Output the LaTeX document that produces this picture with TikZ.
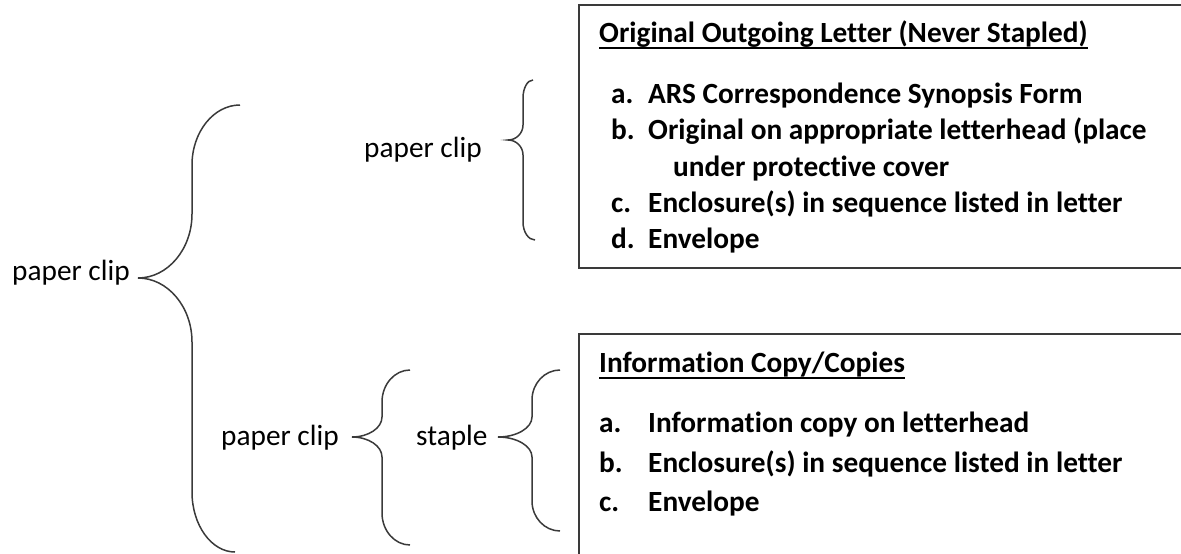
\documentclass[tikz,border=0pt]{standalone}
\usepackage{fontspec}
\setmainfont{Carlito}[Ligatures=NoCommon]
\definecolor{inkline}{HTML}{3A3A3A}
\tikzset{
  bracestyle/.style={draw=inkline, line width=1.5pt},
  boxframe/.style={draw=inkline, line width=2pt},
  lbl/.style={anchor=base west, inner sep=0pt, font=\fontsize{29.3}{35.8}\selectfont},
  item/.style={anchor=base west, inner sep=0pt, font=\fontsize{29.3}{35.8}\selectfont\bfseries},
}
% underlined heading: rule set 6pt below the baseline, crossing descenders
\newcommand\headline[1]{\setbox0\hbox{#1}\rlap{\rule[-7pt]{\wd0}{2pt}}\box0}
% left curly brace: #1,#2 tip; #3 spine x; #4,#5 upper end; #6,#7 lower end;
% #8 vertical radius of the end curls; #9 vertical radius of the tip curls
\newcommand\curlybrace[9]{%
  \draw[bracestyle] (#4,#5)
    .. controls ({#4-0.55*(#4-#3)},#5) and (#3,{#5+0.45*#8}) .. (#3,{#5+#8})
    -- (#3,{#2-#9})
    .. controls (#3,{#2-0.45*#9}) and ({#1+0.55*(#3-#1)},#2) .. (#1,#2)
    .. controls ({#1+0.55*(#3-#1)},#2) and (#3,{#2+0.45*#9}) .. (#3,{#2+#9})
    -- (#3,{#7-#8})
    .. controls (#3,{#7-0.45*#8}) and ({#6-0.55*(#6-#3)},#7) .. (#6,#7);}
\begin{document}
\begin{tikzpicture}[x=1pt, y=-1pt]
  \useasboundingbox (0,0) rectangle (1181,554);
  \clip (0,0) rectangle (1181,554);

  % frames of the two lists (they run past the right and lower edges)
  \draw[boxframe] (579,5) rectangle (1200,268);
  \draw[boxframe] (579,334) rectangle (1200,600);

  % fastening labels
  \node[lbl] (clipall) at (12,280) {paper clip};
  \node[lbl] (cliptop) at (364,157) {paper clip};
  \node[lbl] (clipbot) at (221,445) {paper clip};
  \node[lbl] (staple)  at (416,445) {staple};

  % braces
  \curlybrace{138}{278}{192}{240}{105}{235}{552}{60}{64}
  \curlybrace{508}{140}{523}{533}{80}{535}{240}{18}{15}
  \curlybrace{352}{437}{382}{410}{370}{410}{545}{32}{20}
  \curlybrace{498}{437}{532}{560}{370}{560}{531}{30}{20}

  % original outgoing letter
  \node[item] (ohead) at (599,42) {\headline{Original Outgoing Letter (Never Stapled)}};
  \node[item] (oa) at (611,103) {a.};
  \node[item] (oat) at (648,103) {ARS Correspondence Synopsis Form};
  \node[item] (ob) at (611,139.5) {b.};
  \node[item] (obt) at (648,139.5) {Original on appropriate letterhead (place};
  \node[item] (obu) at (673,176) {under protective cover};
  \node[item] (oc) at (611,212.5) {c.};
  \node[item] (oct) at (648,212.5) {Enclosure(s) in sequence listed in letter};
  \node[item] (od) at (611,248) {d.};
  \node[item] (odt) at (648,248) {Envelope};

  % information copies
  \node[item] (ihead) at (599,372) {\headline{Information Copy/Copies}};
  \node[item] (ia) at (599,432.5) {a.};
  \node[item] (iat) at (648,432.5) {Information copy on letterhead};
  \node[item] (ib) at (599,472) {b.};
  \node[item] (ibt) at (648,472) {Enclosure(s) in sequence listed in letter};
  \node[item] (ic) at (599,511.5) {c.};
  \node[item] (ict) at (648,511.5) {Envelope};
\end{tikzpicture}
\end{document}
